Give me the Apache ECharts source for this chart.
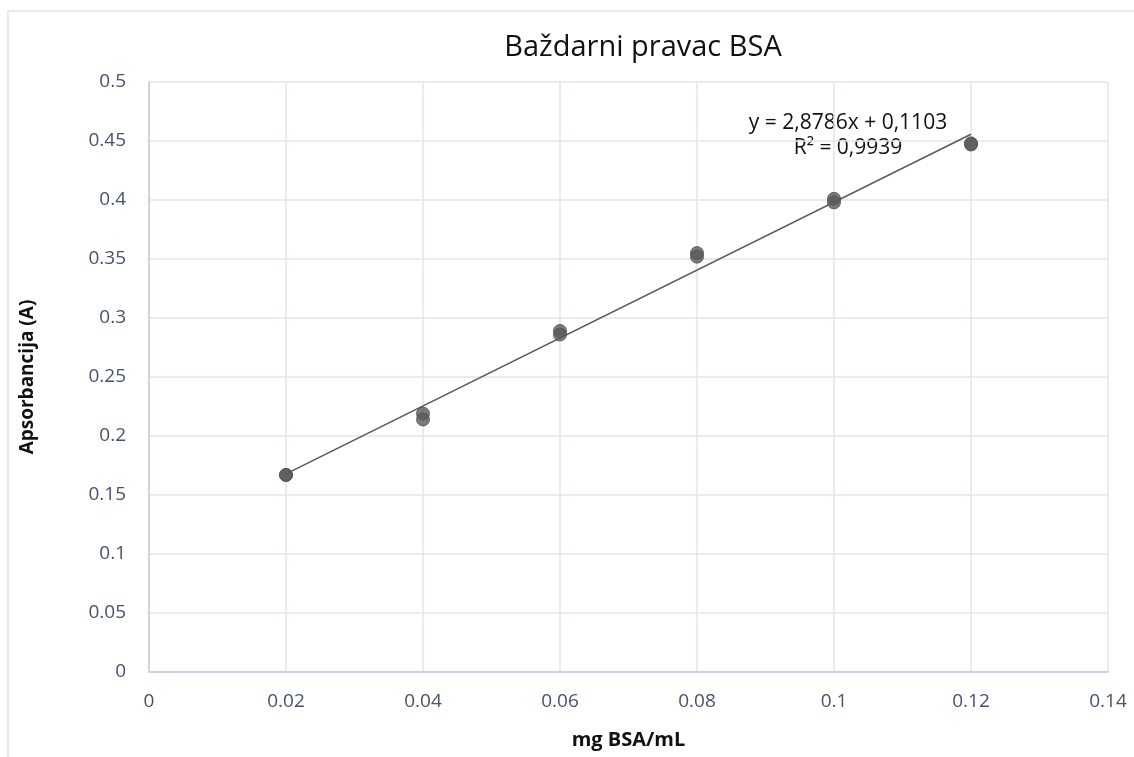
<!DOCTYPE html>
<html><head><meta charset="utf-8">
<script src="https://cdn.jsdelivr.net/npm/echarts@6/dist/echarts.min.js"></script>
<style>html,body{margin:0;padding:0;background:#fff}#c{width:1134px;height:757px}</style>
</head><body><div id="c"></div>
<script>
const titleText = 'Baždarni pravac BSA';
const xName = 'mg BSA/mL';
const yName = 'Apsorbancija (A)';
const xConc = [0.02, 0.02, 0.04, 0.04, 0.06, 0.06, 0.08, 0.08, 0.10, 0.10, 0.12, 0.12];
const absorb = [0.167, 0.167, 0.219, 0.214, 0.289, 0.286, 0.355, 0.352, 0.401, 0.398, 0.448, 0.447];
const trendX = [0.02, 0.12];
const trendY = [0.1679, 0.4557];
const eqLines = ['y = 2,8786x + 0,1103', 'R² = 0,9939'];

const font = '"Open Sans", "Noto Sans", sans-serif';
const chart = echarts.init(document.getElementById('c'), null, {renderer: 'canvas'});
chart.setOption({
  animation: false,
  backgroundColor: '#fff',
  title: {text: titleText, left: 638, top: 28, textAlign: 'center',
    textStyle: {fontFamily: font, fontSize: 29, fontWeight: 'normal', color: '#111'}},
  grid: {left: 149, right: 26, top: 82, bottom: 85},
  xAxis: {type: 'value', min: 0, max: 0.14, interval: 0.02,
    name: xName, nameLocation: 'middle', nameGap: 58,
    nameTextStyle: {fontFamily: font, fontSize: 20, fontWeight: 'bold', color: '#111'},
    axisLine: {show: true, lineStyle: {color: '#c4cbd8', width: 1.5}},
    axisTick: {show: false},
    axisLabel: {fontFamily: font, fontSize: 19, color: '#46536a', margin: 20,
      formatter: v => String(+v.toFixed(2))},
    splitLine: {show: true, lineStyle: {color: '#e1e5ec', width: 1.5}}},
  yAxis: {type: 'value', min: 0, max: 0.5, interval: 0.05,
    name: yName, nameLocation: 'middle', nameGap: 112, nameRotate: 90,
    nameTextStyle: {fontFamily: font, fontSize: 19, fontWeight: 'bold', color: '#111'},
    axisLine: {show: true, lineStyle: {color: '#c4cbd8', width: 1.5}},
    axisTick: {show: false},
    axisLabel: {fontFamily: font, fontSize: 19, color: '#46536a', margin: 23,
      formatter: v => String(+v.toFixed(2))},
    splitLine: {show: true, lineStyle: {color: '#e1e5ec', width: 1.5}}},
  graphic: [
    {type: 'rect', shape: {x: 8, y: 11, width: 1200, height: 800},
      style: {fill: 'none', stroke: '#dfe3ea', lineWidth: 1.5}, z: -1},
    {type: 'text', x: 848, y: 123, style: {text: eqLines[0], font: '21px ' + font, fill: '#111',
      align: 'center', verticalAlign: 'middle'}},
    {type: 'text', x: 848, y: 148, style: {text: eqLines[1], font: '21px ' + font, fill: '#111',
      align: 'center', verticalAlign: 'middle'}}
  ],
  series: [
    {type: 'line', data: trendX.map((x, i) => [x, trendY[i]]), symbol: 'none',
      lineStyle: {color: '#5a5a5a', width: 1.5}, z: 2},
    {type: 'scatter', data: xConc.map((x, i) => [x, absorb[i]]), symbol: 'circle', symbolSize: 13,
      itemStyle: {color: '#5a5a5a', borderColor: '#4f4f4f', borderWidth: 1}, z: 3}
  ]
});
</script></body></html>
